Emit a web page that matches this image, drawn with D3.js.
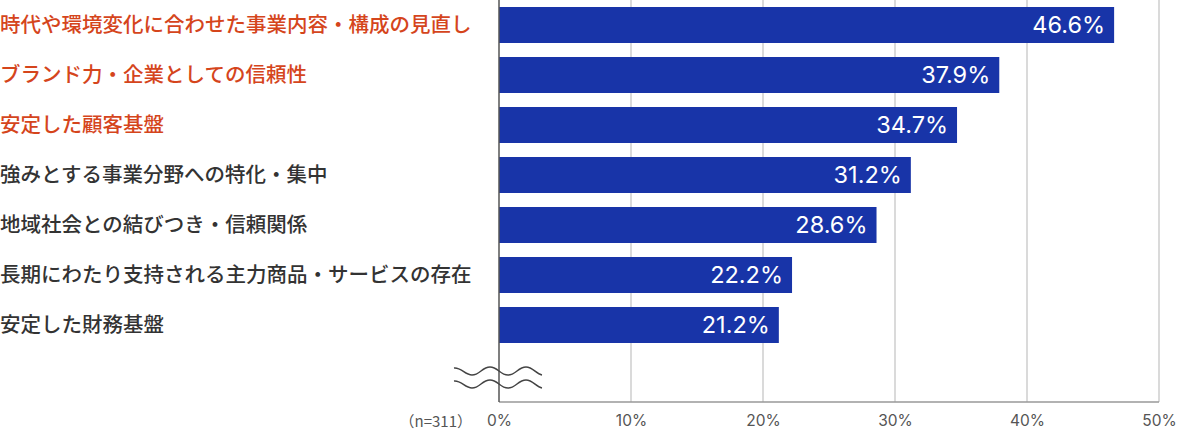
<!DOCTYPE html>
<html>
<head>
<meta charset="utf-8">
<script src="https://cdn.jsdelivr.net/npm/d3@7"></script>
<style>
  body { margin: 0; background: #fff; }
  svg { display: block; }
</style>
</head>
<body>
<svg id="chart" width="1182" height="437"></svg>
<script>
// data
const categories = [
  "時代や環境変化に合わせた事業内容・構成の見直し",
  "ブランド力・企業としての信頼性",
  "安定した顧客基盤",
  "強みとする事業分野への特化・集中",
  "地域社会との結びつき・信頼関係",
  "長期にわたり支持される主力商品・サービスの存在",
  "安定した財務基盤",
];
const values = [46.6, 37.9, 34.7, 31.2, 28.6, 22.2, 21.2];
const highlighted = [true, true, true, false, false, false, false];
const tickValues = [0, 10, 20, 30, 40, 50];
const sampleNote = "（n=311）";

const svg = d3.select("#chart");
const jpFont = "'Noto Sans CJK JP', 'Noto Sans', sans-serif";
const numFont = "Inter, 'Noto Sans', sans-serif";

const x = d3.scaleLinear().domain([0, 50]).range([499, 1159]);
const y = d3.scaleBand()
  .domain(categories)
  .range([0, 350])
  .paddingInner(0.28)
  .paddingOuter(0.14);
const axisY = 402;

// vertical grid lines
svg.append("g")
  .selectAll("line")
  .data(tickValues.slice(1))
  .enter()
  .append("line")
  .attr("x1", (d) => x(d))
  .attr("x2", (d) => x(d))
  .attr("y1", 0)
  .attr("y2", axisY)
  .style("stroke", "#b5b5b5")
  .style("stroke-width", 1);

// bars
svg.append("g")
  .selectAll("rect")
  .data(values)
  .enter()
  .append("rect")
  .attr("x", x(0))
  .attr("y", (d, i) => y(categories[i]))
  .attr("width", (d) => x(d) - x(0))
  .attr("height", y.bandwidth())
  .style("fill", "#1834a8");

// value labels inside bars
svg.append("g")
  .selectAll("text")
  .data(values)
  .enter()
  .append("text")
  .attr("x", (d) => x(d) - 9)
  .attr("y", (d, i) => y(categories[i]) + y.bandwidth() / 2)
  .attr("dy", "0.36em")
  .attr("text-anchor", "end")
  .style("font-family", numFont)
  .style("font-size", "23.5px")
  .style("fill", "#fff")
  .text((d) => `${d.toFixed(1)}%`);

// category labels
svg.append("g")
  .selectAll("text")
  .data(categories)
  .enter()
  .append("text")
  .attr("x", 0)
  .attr("y", (d) => y(d) + y.bandwidth() / 2)
  .attr("dy", "0.36em")
  .style("font-family", jpFont)
  .style("font-size", "20.5px")
  .style("font-weight", 500)
  .style("fill", (d, i) => (highlighted[i] ? "#d5451c" : "#333"))
  .text((d) => d);

// axes
const xAxis = svg.append("g")
  .attr("transform", `translate(0,${axisY})`)
  .call(d3.axisBottom(x).tickValues(tickValues).tickSize(0).tickPadding(13).tickFormat((d) => `${d}%`));
xAxis.select(".domain").remove();
xAxis.selectAll("text")
  .style("font-family", numFont)
  .style("font-size", "15.5px")
  .style("fill", "#555");

svg.append("line")
  .attr("x1", x(0))
  .attr("x2", x(50))
  .attr("y1", axisY)
  .attr("y2", axisY)
  .style("stroke", "#999")
  .style("stroke-width", 1.5);

svg.append("line")
  .attr("x1", x(0))
  .attr("x2", x(0))
  .attr("y1", 0)
  .attr("y2", axisY)
  .style("stroke", "#555")
  .style("stroke-width", 1.5);

svg.append("text")
  .attr("x", 472)
  .attr("y", axisY + 20)
  .attr("dy", "0.36em")
  .attr("text-anchor", "end")
  .style("font-family", jpFont)
  .style("font-size", "15px")
  .style("fill", "#555")
  .text(sampleNote);

// axis break mark (two wavy lines)
const wave = (cy) => {
  const p = d3.path();
  p.moveTo(454, cy - 3);
  p.bezierCurveTo(461, cy - 4, 465, cy + 4, 472, cy + 4);
  p.bezierCurveTo(480, cy + 4, 482, cy - 4, 490, cy - 4);
  p.bezierCurveTo(498, cy - 4, 500, cy + 4, 508, cy + 4);
  p.bezierCurveTo(516, cy + 4, 518, cy - 4, 526, cy - 4);
  p.bezierCurveTo(533, cy - 4, 536, cy + 3, 542, cy + 4);
  return p.toString();
};
svg.append("g")
  .selectAll("path")
  .data([371, 384])
  .enter()
  .append("path")
  .attr("d", (d) => wave(d))
  .style("fill", "none")
  .style("stroke", "#444")
  .style("stroke-width", 1.5);
</script>
</body>
</html>
